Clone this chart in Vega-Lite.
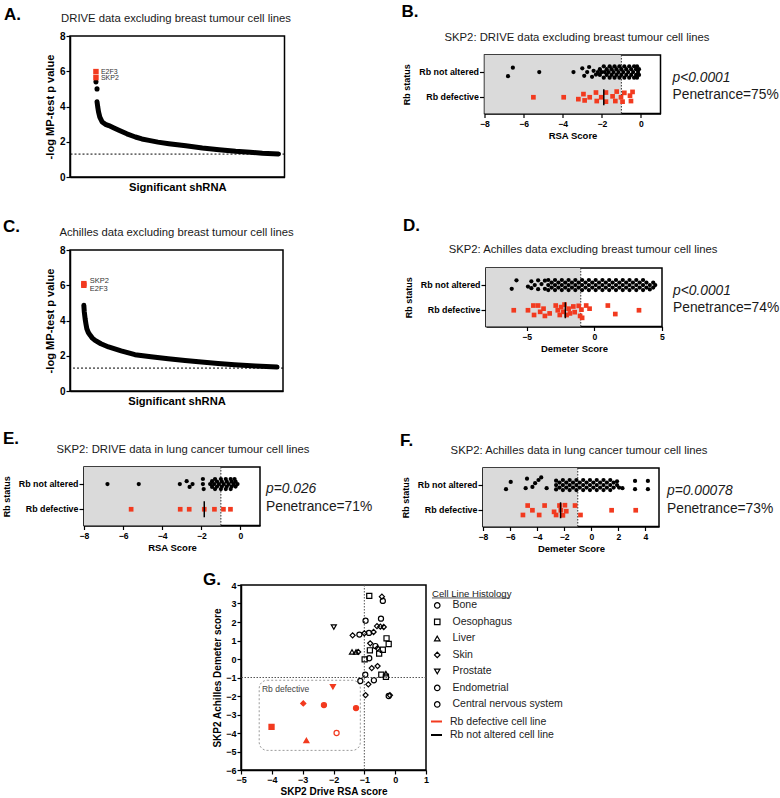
{
"$schema":"https://vega.github.io/schema/vega-lite/v6.json",
"background":"white",
"padding":0,
"config":{
"font":"Liberation Sans",
"view":{"stroke":"black","strokeWidth":1.5},
"concat":{"spacing":0},
"axis":{"grid":false,"domainColor":"black","domainWidth":1.5,"tickColor":"black","tickWidth":1.2,"labelColor":"black","labelFontWeight":"bold","labelFontSize":8.6,"titleColor":"black","titleFontWeight":"bold","labelFlush":false,"labelOverlap":false},
"text":{"color":"black"}
},
"datasets":{
"a_curve":[{"rank":12.6,"value":4.27},{"rank":12.9,"value":4.0},{"rank":13.3,"value":3.7},{"rank":13.9,"value":3.4},{"rank":15.0,"value":3.12},{"rank":16.5,"value":2.99},{"rank":18.1,"value":2.92},{"rank":20.5,"value":2.78},{"rank":22.8,"value":2.65},{"rank":26.5,"value":2.45},{"rank":30.5,"value":2.27},{"rank":33.5,"value":2.16},{"rank":36.8,"value":2.08},{"rank":41,"value":1.98},{"rank":46.1,"value":1.89},{"rank":54,"value":1.77},{"rank":61.7,"value":1.65},{"rank":69.5,"value":1.55},{"rank":77.2,"value":1.46},{"rank":84,"value":1.4},{"rank":89.7,"value":1.35},{"rank":97.2,"value":1.31}],
"a_dots":[{"rank":12.1,"value":5.4},{"rank":12.6,"value":5.0}],
"a_hits":[{"gene":"E2F3","rank":12.1,"value":5.98},{"gene":"SKP2","rank":12.1,"value":5.64}],
"c_curve":[{"rank":6.5,"value":4.86},{"rank":6.7,"value":4.5},{"rank":7.1,"value":4.1},{"rank":7.5,"value":3.8},{"rank":7.9,"value":3.53},{"rank":8.6,"value":3.32},{"rank":9.5,"value":3.16},{"rank":10.5,"value":3.0},{"rank":11.8,"value":2.87},{"rank":14.5,"value":2.68},{"rank":18.1,"value":2.5},{"rank":24,"value":2.28},{"rank":30.5,"value":2.06},{"rank":38,"value":1.94},{"rank":46.1,"value":1.83},{"rank":54,"value":1.73},{"rank":61.7,"value":1.64},{"rank":69.5,"value":1.56},{"rank":77.2,"value":1.49},{"rank":87,"value":1.42},{"rank":97.2,"value":1.36}],
"c_hits":[{"gene":"SKP2","rank":6.5,"value":6.09},{"gene":"E2F3","rank":6.5,"value":6.0}],
"b":[
{"rb":"Rb not altered","score":-6.8,"lane":1.3},{"rb":"Rb not altered","score":-6.55,"lane":-1.4},{"rb":"Rb not altered","score":-5.2,"lane":0},{"rb":"Rb not altered","score":-3.45,"lane":0},{"rb":"Rb not altered","score":-3.0,"lane":-1.2},{"rb":"Rb not altered","score":-2.9,"lane":1.2},{"rb":"Rb not altered","score":-2.75,"lane":0},{"rb":"Rb not altered","score":-2.65,"lane":-1.6},{"rb":"Rb not altered","score":-2.5,"lane":1.5},{"rb":"Rb not altered","score":-2.42,"lane":-0.4},{"rb":"Rb not altered","score":-2.3,"lane":0.8},
{"rb":"Rb not altered","score":-2.2,"lane":0},{"rb":"Rb not altered","score":-2.1,"lane":-0.9},{"rb":"Rb not altered","score":-2.1,"lane":0.9},{"rb":"Rb not altered","score":-2.0,"lane":0},{"rb":"Rb not altered","score":-1.9,"lane":-1.8},{"rb":"Rb not altered","score":-1.9,"lane":1.8},{"rb":"Rb not altered","score":-1.85,"lane":0},{"rb":"Rb not altered","score":-1.75,"lane":-0.9},{"rb":"Rb not altered","score":-1.75,"lane":0.9},{"rb":"Rb not altered","score":-1.65,"lane":0},{"rb":"Rb not altered","score":-1.6,"lane":-1.8},{"rb":"Rb not altered","score":-1.6,"lane":1.8},{"rb":"Rb not altered","score":-1.5,"lane":-0.9},{"rb":"Rb not altered","score":-1.5,"lane":0.9},{"rb":"Rb not altered","score":-1.4,"lane":0},{"rb":"Rb not altered","score":-1.35,"lane":-1.8},{"rb":"Rb not altered","score":-1.35,"lane":1.8},{"rb":"Rb not altered","score":-1.25,"lane":-0.9},{"rb":"Rb not altered","score":-1.25,"lane":0.9},{"rb":"Rb not altered","score":-1.15,"lane":0},{"rb":"Rb not altered","score":-1.1,"lane":-1.8},{"rb":"Rb not altered","score":-1.1,"lane":1.8},{"rb":"Rb not altered","score":-1.0,"lane":-0.9},{"rb":"Rb not altered","score":-1.0,"lane":0.9},{"rb":"Rb not altered","score":-0.9,"lane":0},{"rb":"Rb not altered","score":-0.85,"lane":-1.8},{"rb":"Rb not altered","score":-0.85,"lane":1.8},{"rb":"Rb not altered","score":-0.75,"lane":-0.9},{"rb":"Rb not altered","score":-0.75,"lane":0.9},{"rb":"Rb not altered","score":-0.65,"lane":0},{"rb":"Rb not altered","score":-0.6,"lane":-1.8},{"rb":"Rb not altered","score":-0.6,"lane":1.8},{"rb":"Rb not altered","score":-0.5,"lane":-0.9},{"rb":"Rb not altered","score":-0.5,"lane":0.9},{"rb":"Rb not altered","score":-0.4,"lane":0},{"rb":"Rb not altered","score":-0.35,"lane":-1.8},{"rb":"Rb not altered","score":-0.35,"lane":1.8},{"rb":"Rb not altered","score":-0.25,"lane":-0.9},{"rb":"Rb not altered","score":-0.25,"lane":0.9},{"rb":"Rb not altered","score":-0.2,"lane":-1.8},{"rb":"Rb not altered","score":-0.2,"lane":1.8},{"rb":"Rb not altered","score":-0.15,"lane":0},{"rb":"Rb not altered","score":-0.1,"lane":-0.9},{"rb":"Rb not altered","score":-0.1,"lane":0.9},
{"rb":"Rb defective","score":-5.5,"lane":0},{"rb":"Rb defective","score":-3.95,"lane":0},{"rb":"Rb defective","score":-3.2,"lane":0.6},{"rb":"Rb defective","score":-2.94,"lane":-1},{"rb":"Rb defective","score":-2.88,"lane":1},{"rb":"Rb defective","score":-2.62,"lane":0},{"rb":"Rb defective","score":-2.3,"lane":-1.5},{"rb":"Rb defective","score":-2.26,"lane":1.2},{"rb":"Rb defective","score":-2.03,"lane":0},{"rb":"Rb defective","score":-1.79,"lane":-1.5},{"rb":"Rb defective","score":-1.79,"lane":1.4},{"rb":"Rb defective","score":-1.45,"lane":-0.3},{"rb":"Rb defective","score":-1.31,"lane":1.2},{"rb":"Rb defective","score":-1.24,"lane":-1.8},{"rb":"Rb defective","score":-1.02,"lane":0},{"rb":"Rb defective","score":-0.94,"lane":1.4},{"rb":"Rb defective","score":-0.85,"lane":-1.4},{"rb":"Rb defective","score":-0.56,"lane":-0.5},{"rb":"Rb defective","score":-0.51,"lane":1.2},{"rb":"Rb defective","score":-0.43,"lane":-1.7}
],
"d":[
{"rb":"Rb not altered","score":-6.1,"lane":1.2},{"rb":"Rb not altered","score":-5.75,"lane":-1.5},{"rb":"Rb not altered","score":-4.9,"lane":0.5},{"rb":"Rb not altered","score":-4.65,"lane":-1.2},{"rb":"Rb not altered","score":-4.65,"lane":1.0},{"rb":"Rb not altered","score":-4.4,"lane":0},{"rb":"Rb not altered","score":-4.15,"lane":-1.5},{"rb":"Rb not altered","score":-4.15,"lane":1.3},{"rb":"Rb not altered","score":-3.9,"lane":-0.3},{"rb":"Rb not altered","score":-3.65,"lane":-1.4},{"rb":"Rb not altered","score":-3.65,"lane":1.2},
{"rb":"Rb not altered","score":-3.4,"lane":0},{"rb":"Rb not altered","score":-3.4,"lane":-1.6},{"rb":"Rb not altered","score":-3.4,"lane":1.6},{"rb":"Rb not altered","score":-3.15,"lane":-0.8},{"rb":"Rb not altered","score":-3.15,"lane":0.8},{"rb":"Rb not altered","score":-2.9,"lane":0},{"rb":"Rb not altered","score":-2.9,"lane":-1.6},{"rb":"Rb not altered","score":-2.9,"lane":1.6},{"rb":"Rb not altered","score":-2.65,"lane":-0.8},{"rb":"Rb not altered","score":-2.65,"lane":0.8},{"rb":"Rb not altered","score":-2.4,"lane":0},{"rb":"Rb not altered","score":-2.4,"lane":-1.6},{"rb":"Rb not altered","score":-2.4,"lane":1.6},{"rb":"Rb not altered","score":-2.15,"lane":-0.8},{"rb":"Rb not altered","score":-2.15,"lane":0.8},{"rb":"Rb not altered","score":-1.9,"lane":0},{"rb":"Rb not altered","score":-1.9,"lane":-1.6},{"rb":"Rb not altered","score":-1.9,"lane":1.6},{"rb":"Rb not altered","score":-1.65,"lane":-0.8},{"rb":"Rb not altered","score":-1.65,"lane":0.8},{"rb":"Rb not altered","score":-1.4,"lane":0},{"rb":"Rb not altered","score":-1.4,"lane":-1.6},{"rb":"Rb not altered","score":-1.4,"lane":1.6},{"rb":"Rb not altered","score":-1.15,"lane":-0.8},{"rb":"Rb not altered","score":-1.15,"lane":0.8},{"rb":"Rb not altered","score":-0.9,"lane":0},{"rb":"Rb not altered","score":-0.9,"lane":-1.6},{"rb":"Rb not altered","score":-0.9,"lane":1.6},{"rb":"Rb not altered","score":-0.65,"lane":-0.8},{"rb":"Rb not altered","score":-0.65,"lane":0.8},{"rb":"Rb not altered","score":-0.4,"lane":0},{"rb":"Rb not altered","score":-0.4,"lane":-1.6},{"rb":"Rb not altered","score":-0.4,"lane":1.6},{"rb":"Rb not altered","score":-0.15,"lane":-0.8},{"rb":"Rb not altered","score":-0.15,"lane":0.8},{"rb":"Rb not altered","score":0.1,"lane":0},{"rb":"Rb not altered","score":0.1,"lane":-1.6},{"rb":"Rb not altered","score":0.1,"lane":1.6},{"rb":"Rb not altered","score":0.35,"lane":-0.8},{"rb":"Rb not altered","score":0.35,"lane":0.8},{"rb":"Rb not altered","score":0.6,"lane":0},{"rb":"Rb not altered","score":0.6,"lane":-1.6},{"rb":"Rb not altered","score":0.6,"lane":1.6},{"rb":"Rb not altered","score":0.85,"lane":-0.8},{"rb":"Rb not altered","score":0.85,"lane":0.8},{"rb":"Rb not altered","score":1.1,"lane":0},{"rb":"Rb not altered","score":1.1,"lane":-1.6},{"rb":"Rb not altered","score":1.1,"lane":1.6},{"rb":"Rb not altered","score":1.35,"lane":-0.8},{"rb":"Rb not altered","score":1.35,"lane":0.8},{"rb":"Rb not altered","score":1.6,"lane":0},{"rb":"Rb not altered","score":1.6,"lane":-1.6},{"rb":"Rb not altered","score":1.6,"lane":1.6},{"rb":"Rb not altered","score":1.85,"lane":-0.8},{"rb":"Rb not altered","score":1.85,"lane":0.8},{"rb":"Rb not altered","score":2.1,"lane":0},{"rb":"Rb not altered","score":2.1,"lane":-1.6},{"rb":"Rb not altered","score":2.1,"lane":1.6},{"rb":"Rb not altered","score":2.35,"lane":-0.8},{"rb":"Rb not altered","score":2.35,"lane":0.8},{"rb":"Rb not altered","score":2.6,"lane":0},{"rb":"Rb not altered","score":2.6,"lane":-1.6},{"rb":"Rb not altered","score":2.6,"lane":1.6},{"rb":"Rb not altered","score":2.85,"lane":-0.8},{"rb":"Rb not altered","score":2.85,"lane":0.8},{"rb":"Rb not altered","score":3.1,"lane":0},{"rb":"Rb not altered","score":3.1,"lane":-1.6},{"rb":"Rb not altered","score":3.1,"lane":1.6},{"rb":"Rb not altered","score":3.35,"lane":-0.8},{"rb":"Rb not altered","score":3.35,"lane":0.8},{"rb":"Rb not altered","score":3.6,"lane":0},{"rb":"Rb not altered","score":3.6,"lane":-1.6},{"rb":"Rb not altered","score":3.6,"lane":1.6},{"rb":"Rb not altered","score":3.85,"lane":-0.8},{"rb":"Rb not altered","score":3.85,"lane":0.8},{"rb":"Rb not altered","score":4.1,"lane":0},{"rb":"Rb not altered","score":4.1,"lane":1.4},{"rb":"Rb not altered","score":4.35,"lane":-0.8},{"rb":"Rb not altered","score":4.35,"lane":0.8},{"rb":"Rb not altered","score":4.5,"lane":0},
{"rb":"Rb defective","score":-5.95,"lane":0},{"rb":"Rb defective","score":-4.9,"lane":0},{"rb":"Rb defective","score":-4.5,"lane":-1.5},{"rb":"Rb defective","score":-4.45,"lane":1.5},{"rb":"Rb defective","score":-4.15,"lane":-1.5},{"rb":"Rb defective","score":-4.0,"lane":0.5},{"rb":"Rb defective","score":-3.75,"lane":-0.5},{"rb":"Rb defective","score":-3.65,"lane":1.8},{"rb":"Rb defective","score":-3.3,"lane":1},{"rb":"Rb defective","score":-2.85,"lane":-1.5},{"rb":"Rb defective","score":-2.7,"lane":0},{"rb":"Rb defective","score":-2.55,"lane":1.5},{"rb":"Rb defective","score":-2.45,"lane":-1},{"rb":"Rb defective","score":-2.3,"lane":0.5},{"rb":"Rb defective","score":-2.2,"lane":-1.8},{"rb":"Rb defective","score":-2.05,"lane":1.5},{"rb":"Rb defective","score":-1.9,"lane":-0.5},{"rb":"Rb defective","score":-1.8,"lane":1},{"rb":"Rb defective","score":-1.55,"lane":-1.2},{"rb":"Rb defective","score":-1.45,"lane":0.6},{"rb":"Rb defective","score":-1.15,"lane":-1.4},{"rb":"Rb defective","score":-1.05,"lane":1.8},{"rb":"Rb defective","score":-0.95,"lane":-0.2},{"rb":"Rb defective","score":-0.9,"lane":2.4},{"rb":"Rb defective","score":-0.6,"lane":-1.5},{"rb":"Rb defective","score":-0.35,"lane":-0.5},{"rb":"Rb defective","score":1.0,"lane":-1.5},{"rb":"Rb defective","score":1.55,"lane":1.2},{"rb":"Rb defective","score":3.3,"lane":0}
],
"e":[
{"rb":"Rb not altered","score":-6.8,"lane":0},{"rb":"Rb not altered","score":-5.2,"lane":0},{"rb":"Rb not altered","score":-3.1,"lane":0},{"rb":"Rb not altered","score":-2.75,"lane":-0.9},{"rb":"Rb not altered","score":-2.6,"lane":0.9},{"rb":"Rb not altered","score":-2.45,"lane":0},{"rb":"Rb not altered","score":-1.92,"lane":-1.6},{"rb":"Rb not altered","score":-1.92,"lane":0},{"rb":"Rb not altered","score":-1.88,"lane":1.6},{"rb":"Rb not altered","score":-1.55,"lane":0},{"rb":"Rb not altered","score":-1.45,"lane":-0.9},{"rb":"Rb not altered","score":-1.45,"lane":0.9},{"rb":"Rb not altered","score":-1.35,"lane":0},{"rb":"Rb not altered","score":-1.3,"lane":-1.6},{"rb":"Rb not altered","score":-1.3,"lane":1.6},{"rb":"Rb not altered","score":-1.2,"lane":-0.8},{"rb":"Rb not altered","score":-1.2,"lane":0.8},{"rb":"Rb not altered","score":-1.1,"lane":0},{"rb":"Rb not altered","score":-1.0,"lane":-1.6},{"rb":"Rb not altered","score":-1.0,"lane":1.6},{"rb":"Rb not altered","score":-0.95,"lane":-0.8},{"rb":"Rb not altered","score":-0.95,"lane":0.8},{"rb":"Rb not altered","score":-0.85,"lane":0},{"rb":"Rb not altered","score":-0.75,"lane":-1.6},{"rb":"Rb not altered","score":-0.75,"lane":1.6},{"rb":"Rb not altered","score":-0.7,"lane":-0.8},{"rb":"Rb not altered","score":-0.7,"lane":0.8},{"rb":"Rb not altered","score":-0.6,"lane":0},{"rb":"Rb not altered","score":-0.5,"lane":-1.6},{"rb":"Rb not altered","score":-0.5,"lane":1.6},{"rb":"Rb not altered","score":-0.45,"lane":-0.8},{"rb":"Rb not altered","score":-0.45,"lane":0.8},{"rb":"Rb not altered","score":-0.35,"lane":0},{"rb":"Rb not altered","score":-0.3,"lane":-1.6},{"rb":"Rb not altered","score":-0.25,"lane":-0.8},{"rb":"Rb not altered","score":-0.25,"lane":0.8},{"rb":"Rb not altered","score":-0.15,"lane":0},
{"rb":"Rb defective","score":-5.59,"lane":0},{"rb":"Rb defective","score":-3.08,"lane":0},{"rb":"Rb defective","score":-2.62,"lane":0},{"rb":"Rb defective","score":-1.85,"lane":0},{"rb":"Rb defective","score":-1.33,"lane":0},{"rb":"Rb defective","score":-0.87,"lane":0},{"rb":"Rb defective","score":-0.51,"lane":0}
],
"f":[
{"rb":"Rb not altered","score":-6.3,"lane":1.3},{"rb":"Rb not altered","score":-5.95,"lane":-1.0},{"rb":"Rb not altered","score":-4.85,"lane":1.0},{"rb":"Rb not altered","score":-4.75,"lane":-2.0},{"rb":"Rb not altered","score":-4.35,"lane":0.6},{"rb":"Rb not altered","score":-4.15,"lane":-0.6},{"rb":"Rb not altered","score":-3.9,"lane":-1.6},{"rb":"Rb not altered","score":-3.7,"lane":-2.4},{"rb":"Rb not altered","score":-3.3,"lane":1.0},
{"rb":"Rb not altered","score":-2.6,"lane":0},{"rb":"Rb not altered","score":-2.6,"lane":-1.4},{"rb":"Rb not altered","score":-2.6,"lane":1.4},{"rb":"Rb not altered","score":-2.35,"lane":-0.8},{"rb":"Rb not altered","score":-2.35,"lane":0.8},{"rb":"Rb not altered","score":-2.1,"lane":0},{"rb":"Rb not altered","score":-2.1,"lane":-1.6},{"rb":"Rb not altered","score":-2.1,"lane":1.6},{"rb":"Rb not altered","score":-1.85,"lane":-0.8},{"rb":"Rb not altered","score":-1.85,"lane":0.8},{"rb":"Rb not altered","score":-1.6,"lane":0},{"rb":"Rb not altered","score":-1.6,"lane":-1.6},{"rb":"Rb not altered","score":-1.6,"lane":1.6},{"rb":"Rb not altered","score":-1.35,"lane":-0.8},{"rb":"Rb not altered","score":-1.35,"lane":0.8},{"rb":"Rb not altered","score":-1.1,"lane":0},{"rb":"Rb not altered","score":-1.1,"lane":-1.6},{"rb":"Rb not altered","score":-1.1,"lane":1.6},{"rb":"Rb not altered","score":-0.85,"lane":-0.8},{"rb":"Rb not altered","score":-0.85,"lane":0.8},{"rb":"Rb not altered","score":-0.6,"lane":0},{"rb":"Rb not altered","score":-0.6,"lane":-1.6},{"rb":"Rb not altered","score":-0.6,"lane":1.6},{"rb":"Rb not altered","score":-0.35,"lane":-0.8},{"rb":"Rb not altered","score":-0.35,"lane":0.8},{"rb":"Rb not altered","score":-0.1,"lane":0},{"rb":"Rb not altered","score":-0.1,"lane":-1.6},{"rb":"Rb not altered","score":-0.1,"lane":1.6},{"rb":"Rb not altered","score":0.15,"lane":-0.8},{"rb":"Rb not altered","score":0.15,"lane":0.8},{"rb":"Rb not altered","score":0.4,"lane":0},{"rb":"Rb not altered","score":0.4,"lane":-1.6},{"rb":"Rb not altered","score":0.4,"lane":1.6},{"rb":"Rb not altered","score":0.65,"lane":-0.8},{"rb":"Rb not altered","score":0.65,"lane":0.8},{"rb":"Rb not altered","score":0.9,"lane":0},{"rb":"Rb not altered","score":0.9,"lane":-1.6},{"rb":"Rb not altered","score":0.9,"lane":1.6},{"rb":"Rb not altered","score":1.15,"lane":-0.8},{"rb":"Rb not altered","score":1.15,"lane":0.8},{"rb":"Rb not altered","score":1.4,"lane":0},{"rb":"Rb not altered","score":1.4,"lane":-1.6},{"rb":"Rb not altered","score":1.4,"lane":1.6},{"rb":"Rb not altered","score":1.65,"lane":-0.8},{"rb":"Rb not altered","score":1.65,"lane":0.8},{"rb":"Rb not altered","score":1.9,"lane":0},{"rb":"Rb not altered","score":1.9,"lane":-1.2},{"rb":"Rb not altered","score":2.05,"lane":0.8},{"rb":"Rb not altered","score":2.3,"lane":1.0},{"rb":"Rb not altered","score":3.23,"lane":-1.3},{"rb":"Rb not altered","score":3.23,"lane":1.3},{"rb":"Rb not altered","score":4.18,"lane":-1.3},{"rb":"Rb not altered","score":4.18,"lane":1.3},
{"rb":"Rb defective","score":-5.05,"lane":1.5},{"rb":"Rb defective","score":-4.7,"lane":-1.5},{"rb":"Rb defective","score":-4.35,"lane":0},{"rb":"Rb defective","score":-3.85,"lane":1.5},{"rb":"Rb defective","score":-3.45,"lane":-1.5},{"rb":"Rb defective","score":-2.75,"lane":0.5},{"rb":"Rb defective","score":-2.6,"lane":1.5},{"rb":"Rb defective","score":-2.35,"lane":-1.5},{"rb":"Rb defective","score":-2.25,"lane":0},{"rb":"Rb defective","score":-2.1,"lane":1.6},{"rb":"Rb defective","score":-1.95,"lane":-1.6},{"rb":"Rb defective","score":-1.85,"lane":0.3},{"rb":"Rb defective","score":-1.2,"lane":-1.5},{"rb":"Rb defective","score":-0.8,"lane":1.5},{"rb":"Rb defective","score":1.5,"lane":0},{"rb":"Rb defective","score":3.28,"lane":0}
],
"g":[
{"histology":"Oesophagus","rb":"Rb not altered cell line","rsa":-0.84,"demeter":3.41},
{"histology":"Skin","rb":"Rb not altered cell line","rsa":-0.43,"demeter":3.37},
{"histology":"Bone","rb":"Rb not altered cell line","rsa":-0.4,"demeter":3.14},
{"histology":"Prostate","rb":"Rb not altered cell line","rsa":-1.99,"demeter":1.73},
{"histology":"Endometrial","rb":"Rb not altered cell line","rsa":-0.96,"demeter":2.07},
{"histology":"Bone","rb":"Rb not altered cell line","rsa":-0.46,"demeter":2.18},
{"histology":"Skin","rb":"Rb not altered cell line","rsa":-0.59,"demeter":1.78},
{"histology":"Skin","rb":"Rb not altered cell line","rsa":-0.48,"demeter":1.75},
{"histology":"Skin","rb":"Rb not altered cell line","rsa":-0.37,"demeter":1.73},
{"histology":"Skin","rb":"Rb not altered cell line","rsa":-1.38,"demeter":1.28},
{"histology":"Central nervous system","rb":"Rb not altered cell line","rsa":-1.16,"demeter":1.32},
{"histology":"Skin","rb":"Rb not altered cell line","rsa":-1.0,"demeter":1.39},
{"histology":"Bone","rb":"Rb not altered cell line","rsa":-0.85,"demeter":1.41},
{"histology":"Skin","rb":"Rb not altered cell line","rsa":-0.7,"demeter":1.46},
{"histology":"Oesophagus","rb":"Rb not altered cell line","rsa":-0.28,"demeter":1.12},
{"histology":"Oesophagus","rb":"Rb not altered cell line","rsa":-0.21,"demeter":0.81},
{"histology":"Skin","rb":"Rb not altered cell line","rsa":-0.81,"demeter":0.85},
{"histology":"Endometrial","rb":"Rb not altered cell line","rsa":-0.64,"demeter":0.7},
{"histology":"Skin","rb":"Rb not altered cell line","rsa":-0.57,"demeter":0.58},
{"histology":"Oesophagus","rb":"Rb not altered cell line","rsa":-0.82,"demeter":0.47},
{"histology":"Oesophagus","rb":"Rb not altered cell line","rsa":-0.4,"demeter":0.5},
{"histology":"Oesophagus","rb":"Rb not altered cell line","rsa":-0.52,"demeter":0.29},
{"histology":"Liver","rb":"Rb not altered cell line","rsa":-1.4,"demeter":0.38},
{"histology":"Liver","rb":"Rb not altered cell line","rsa":-1.27,"demeter":0.38},
{"histology":"Skin","rb":"Rb not altered cell line","rsa":-1.2,"demeter":0.38},
{"histology":"Oesophagus","rb":"Rb not altered cell line","rsa":-0.99,"demeter":-0.02},
{"histology":"Central nervous system","rb":"Rb not altered cell line","rsa":-0.84,"demeter":0.04},
{"histology":"Skin","rb":"Rb not altered cell line","rsa":-0.57,"demeter":-0.38},
{"histology":"Skin","rb":"Rb not altered cell line","rsa":-0.76,"demeter":-0.49},
{"histology":"Central nervous system","rb":"Rb not altered cell line","rsa":-0.97,"demeter":-0.85},
{"histology":"Oesophagus","rb":"Rb not altered cell line","rsa":-0.45,"demeter":-0.85},
{"histology":"Oesophagus","rb":"Rb not altered cell line","rsa":-0.3,"demeter":-0.96},
{"histology":"Liver","rb":"Rb not altered cell line","rsa":-0.3,"demeter":-0.79},
{"histology":"Endometrial","rb":"Rb not altered cell line","rsa":-1.13,"demeter":-1.19},
{"histology":"Skin","rb":"Rb not altered cell line","rsa":-0.87,"demeter":-1.37},
{"histology":"Central nervous system","rb":"Rb not altered cell line","rsa":-0.69,"demeter":-1.15},
{"histology":"Skin","rb":"Rb not altered cell line","rsa":-0.96,"demeter":-1.95},
{"histology":"Bone","rb":"Rb not altered cell line","rsa":-0.21,"demeter":-2.0},
{"histology":"Skin","rb":"Rb not altered cell line","rsa":-0.17,"demeter":-1.96},
{"histology":"Oesophagus","rb":"Rb defective cell line","rsa":-4.01,"demeter":-3.67},
{"histology":"Prostate","rb":"Rb defective cell line","rsa":-2.02,"demeter":-1.5},
{"histology":"Skin","rb":"Rb defective cell line","rsa":-2.98,"demeter":-2.4},
{"histology":"Bone","rb":"Rb defective cell line","rsa":-2.31,"demeter":-2.49},
{"histology":"Endometrial","rb":"Rb defective cell line","rsa":-1.27,"demeter":-2.65},
{"histology":"Liver","rb":"Rb defective cell line","rsa":-2.88,"demeter":-4.4},
{"histology":"Central nervous system","rb":"Rb defective cell line","rsa":-1.9,"demeter":-4.0}
]
},
"spacing":0,
"resolve":{"scale":{"yOffset":"independent","shape":"independent","stroke":"independent"}},
"vconcat":[
{"hconcat":[
 {"hconcat":[
  {"width":2.5,"height":1,"data":{"values":[]},"mark":"point","view":{"stroke":null}},
  {"vconcat":[
   {"width":1,"height":4,"data":{"values":[]},"mark":"point","view":{"stroke":null}},
   {"width":214.5,"height":141,"layer":[
    {"data":{"name":"a_curve"},"mark":{"type":"line","color":"black","strokeWidth":5,"strokeCap":"round","strokeJoin":"round"},
     "encoding":{"x":{"field":"rank","type":"quantitative","scale":{"domain":[0,100],"nice":false,"zero":false},"axis":{"labels":false,"ticks":false,"title":"Significant shRNA","titleFontSize":11.2,"titlePadding":4.5}},
     "y":{"field":"value","type":"quantitative","scale":{"domain":[0,8],"nice":false},"axis":{"values":[0,2,4,6,8],"tickCount":40,"format":"d","title":"-log MP-test p value","labelFontSize":10,"titleFontSize":11.1,"tickSize":4,"labelPadding":1,"titlePadding":4}}}},
    {"data":{"values":[{}]},"mark":{"type":"rule","strokeDash":[2,2],"strokeWidth":1,"color":"black"},"encoding":{"y":{"datum":1.3}}},
    {"data":{"name":"a_dots"},"mark":{"type":"circle","color":"black","size":26,"opacity":1},"encoding":{"x":{"field":"rank","type":"quantitative"},"y":{"field":"value","type":"quantitative"}}},
    {"data":{"name":"a_hits"},"mark":{"type":"square","color":"#f23a1f","size":30,"opacity":1},"encoding":{"x":{"field":"rank","type":"quantitative"},"y":{"field":"value","type":"quantitative"}}},
    {"data":{"name":"a_hits"},"mark":{"type":"text","align":"left","baseline":"middle","dx":5,"fontSize":7,"color":"#333"},"encoding":{"x":{"field":"rank","type":"quantitative"},"y":{"field":"value","type":"quantitative"},"text":{"field":"gene"}}},
    {"data":{"values":[{"label":"A."}]},"mark":{"type":"text","align":"left","baseline":"alphabetic","fontSize":17,"fontWeight":"bold","dx":-66,"dy":-16.5},"encoding":{"x":{"datum":0},"y":{"datum":8},"text":{"field":"label"}}},
    {"data":{"values":[{"label":"DRIVE data excluding breast tumour cell lines"}]},"mark":{"type":"text","align":"center","baseline":"alphabetic","fontSize":11.3,"color":"#1a1a1a","dx":-1.25,"dy":-14.5},"encoding":{"x":{"datum":50},"y":{"datum":8},"text":{"field":"label"}}}
   ]}
  ],"spacing":0}
 ],"spacing":0},
 {"vconcat":[
  {"width":1,"height":1.5,"data":{"values":[]},"mark":"point","view":{"stroke":null}},
  {"width":176,"height":58.5,"layer":[
   {"data":{"values":[{}]},"mark":{"type":"rect","color":"#dadada"},"encoding":{"x":{"datum":-8,"type":"quantitative","scale":{"domain":[-8,1],"nice":false,"zero":false},"axis":{"values":[-8,-6,-4,-2,0],"tickCount":40,"format":"d","title":"RSA Score","tickSize":4,"labelPadding":2,"titlePadding":2,"titleFontSize":9.5}},"x2":{"datum":-1}}},
   {"data":{"values":[{}]},"mark":{"type":"rule","color":"#333","strokeWidth":1,"strokeDash":[1.5,1.5]},"encoding":{"x":{"datum":-1}}},
   {"data":{"name":"b"},"transform":[{"filter":"datum.rb === 'Rb not altered'"}],"mark":{"type":"circle","color":"black","size":18,"opacity":1},
    "encoding":{"x":{"field":"score","type":"quantitative"},
    "y":{"field":"rb","type":"nominal","scale":{"type":"band","domain":["Rb not altered","Rb defective"],"paddingInner":0,"paddingOuter":0.16,"align":0.55},"axis":{"title":"Rb status","titleFontSize":9,"labelFontSize":8.9,"tickSize":5,"labelPadding":1,"titlePadding":7}},
    "yOffset":{"field":"lane","type":"quantitative","scale":{"domain":[-4,4]}}}},
   {"data":{"name":"b"},"transform":[{"filter":"datum.rb === 'Rb defective'"}],"mark":{"type":"square","color":"#f23a1f","size":22,"opacity":1},
    "encoding":{"x":{"field":"score","type":"quantitative"},"y":{"field":"rb","type":"nominal"},"yOffset":{"field":"lane","type":"quantitative"}}},
   {"data":{"values":[{"rb":"Rb defective","median":-1.9}]},"mark":{"type":"tick","color":"black","thickness":1.5,"size":16,"opacity":1},"encoding":{"x":{"field":"median","type":"quantitative"},"y":{"field":"rb","type":"nominal"}}},
   {"data":{"values":[{"label":"B."}]},"mark":{"type":"text","align":"left","baseline":"alphabetic","fontSize":17,"fontWeight":"bold","dx":-83,"dy":-54.6},"encoding":{"x":{"datum":-8},"y":{"datum":"Rb not altered"},"text":{"field":"label"}}},
   {"data":{"values":[{"label":"SKP2: DRIVE data excluding breast tumour cell lines"}]},"mark":{"type":"text","align":"center","baseline":"alphabetic","fontSize":11.3,"color":"#1a1a1a","dx":4.5,"dy":-31.4},"encoding":{"x":{"datum":-3.5},"y":{"datum":"Rb not altered"},"text":{"field":"label"}}},
   {"data":{"values":[{"label":"p<0.0001"}]},"mark":{"type":"text","align":"left","baseline":"alphabetic","fontSize":13.8,"fontStyle":"italic","color":"#1a1a1a","dx":12,"dy":9.5},"encoding":{"x":{"datum":1},"y":{"datum":"Rb not altered"},"text":{"field":"label"}}},
   {"data":{"values":[{"label":"Penetrance=75%"}]},"mark":{"type":"text","align":"left","baseline":"alphabetic","fontSize":13.8,"color":"#1a1a1a","dx":12,"dy":2},"encoding":{"x":{"datum":1},"y":{"datum":"Rb defective"},"text":{"field":"label"}}}
  ]}
 ],"spacing":0}
],"spacing":108.5},
{"hconcat":[
 {"hconcat":[
  {"width":1.5,"height":1,"data":{"values":[]},"mark":"point","view":{"stroke":null}},
  {"vconcat":[
   {"width":1,"height":21.6,"data":{"values":[]},"mark":"point","view":{"stroke":null}},
   {"width":213,"height":141,"layer":[
    {"data":{"name":"c_curve"},"mark":{"type":"line","color":"black","strokeWidth":5,"strokeCap":"round","strokeJoin":"round"},
     "encoding":{"x":{"field":"rank","type":"quantitative","scale":{"domain":[0,100],"nice":false,"zero":false},"axis":{"labels":false,"ticks":false,"title":"Significant shRNA","titleFontSize":11.2,"titlePadding":4.5}},
     "y":{"field":"value","type":"quantitative","scale":{"domain":[0,8],"nice":false},"axis":{"values":[0,2,4,6,8],"tickCount":40,"format":"d","title":"-log MP-test p value","labelFontSize":10,"titleFontSize":11.1,"tickSize":4,"labelPadding":1,"titlePadding":4}}}},
    {"data":{"values":[{}]},"mark":{"type":"rule","strokeDash":[2,2],"strokeWidth":1,"color":"black"},"encoding":{"y":{"datum":1.3}}},
    {"data":{"name":"c_hits"},"mark":{"type":"square","color":"#f23a1f","size":30,"opacity":1},"encoding":{"x":{"field":"rank","type":"quantitative"},"y":{"field":"value","type":"quantitative"}}},
    {"data":{"name":"c_hits"},"transform":[{"filter":"datum.gene === 'SKP2'"}],"mark":{"type":"text","align":"left","baseline":"middle","dx":6,"dy":-2.5,"fontSize":7.5,"color":"#333"},"encoding":{"x":{"field":"rank","type":"quantitative"},"y":{"field":"value","type":"quantitative"},"text":{"field":"gene"}}},
    {"data":{"name":"c_hits"},"transform":[{"filter":"datum.gene === 'E2F3'"}],"mark":{"type":"text","align":"left","baseline":"middle","dx":6,"dy":3.5,"fontSize":7.5,"color":"#333"},"encoding":{"x":{"field":"rank","type":"quantitative"},"y":{"field":"value","type":"quantitative"},"text":{"field":"gene"}}},
    {"data":{"values":[{"label":"C."}]},"mark":{"type":"text","align":"left","baseline":"alphabetic","fontSize":17,"fontWeight":"bold","dx":-67,"dy":-18.5},"encoding":{"x":{"datum":0},"y":{"datum":8},"text":{"field":"label"}}},
    {"data":{"values":[{"label":"Achilles data excluding breast tumour cell lines"}]},"mark":{"type":"text","align":"center","baseline":"alphabetic","fontSize":11.3,"color":"#1a1a1a","dx":0,"dy":-14},"encoding":{"x":{"datum":50},"y":{"datum":8},"text":{"field":"label"}}}
   ]}
  ],"spacing":0}
 ],"spacing":0},
 {"vconcat":[
  {"width":1,"height":21.6,"data":{"values":[]},"mark":"point","view":{"stroke":null}},
  {"width":176,"height":58.5,"layer":[
   {"data":{"values":[{}]},"mark":{"type":"rect","color":"#dadada"},"encoding":{"x":{"datum":-8,"type":"quantitative","scale":{"domain":[-8,5],"nice":false,"zero":false},"axis":{"values":[-5,0,5],"tickCount":40,"format":"d","title":"Demeter Score","tickSize":4,"labelPadding":2,"titlePadding":2,"titleFontSize":9.5}},"x2":{"datum":-1}}},
   {"data":{"values":[{}]},"mark":{"type":"rule","color":"#333","strokeWidth":1,"strokeDash":[1.5,1.5]},"encoding":{"x":{"datum":-1}}},
   {"data":{"name":"d"},"transform":[{"filter":"datum.rb === 'Rb not altered'"}],"mark":{"type":"circle","color":"black","size":18,"opacity":1},
    "encoding":{"x":{"field":"score","type":"quantitative"},
    "y":{"field":"rb","type":"nominal","scale":{"type":"band","domain":["Rb not altered","Rb defective"],"paddingInner":0,"paddingOuter":0.16,"align":0.55},"axis":{"title":"Rb status","titleFontSize":9,"labelFontSize":8.9,"tickSize":5,"labelPadding":1,"titlePadding":7}},
    "yOffset":{"field":"lane","type":"quantitative","scale":{"domain":[-4,4]}}}},
   {"data":{"name":"d"},"transform":[{"filter":"datum.rb === 'Rb defective'"}],"mark":{"type":"square","color":"#f23a1f","size":22,"opacity":1},
    "encoding":{"x":{"field":"score","type":"quantitative"},"y":{"field":"rb","type":"nominal"},"yOffset":{"field":"lane","type":"quantitative"}}},
   {"data":{"values":[{"rb":"Rb defective","median":-2.14}]},"mark":{"type":"tick","color":"black","thickness":1.5,"size":16,"opacity":1},"encoding":{"x":{"field":"median","type":"quantitative"},"y":{"field":"rb","type":"nominal"}}},
   {"data":{"values":[{"label":"D."}]},"mark":{"type":"text","align":"left","baseline":"alphabetic","fontSize":17,"fontWeight":"bold","dx":-83,"dy":-54.1},"encoding":{"x":{"datum":-8},"y":{"datum":"Rb not altered"},"text":{"field":"label"}}},
   {"data":{"values":[{"label":"SKP2: Achilles data excluding breast tumour cell lines"}]},"mark":{"type":"text","align":"center","baseline":"alphabetic","fontSize":11.3,"color":"#1a1a1a","dx":9,"dy":-31.9},"encoding":{"x":{"datum":-1.5},"y":{"datum":"Rb not altered"},"text":{"field":"label"}}},
   {"data":{"values":[{"label":"p<0.0001"}]},"mark":{"type":"text","align":"left","baseline":"alphabetic","fontSize":13.8,"fontStyle":"italic","color":"#1a1a1a","dx":11,"dy":9.5},"encoding":{"x":{"datum":5},"y":{"datum":"Rb not altered"},"text":{"field":"label"}}},
   {"data":{"values":[{"label":"Penetrance=74%"}]},"mark":{"type":"text","align":"left","baseline":"alphabetic","fontSize":13.8,"color":"#1a1a1a","dx":11,"dy":2},"encoding":{"x":{"datum":5},"y":{"datum":"Rb defective"},"text":{"field":"label"}}}
  ]}
 ],"spacing":0}
],"spacing":107},
{"hconcat":[
 {"hconcat":[
  {"width":1,"height":1,"data":{"values":[]},"mark":"point","view":{"stroke":null}},
  {"vconcat":[
   {"width":1,"height":20.4,"data":{"values":[]},"mark":"point","view":{"stroke":null}},
   {"width":176,"height":58.5,"layer":[
    {"data":{"values":[{}]},"mark":{"type":"rect","color":"#dadada"},"encoding":{"x":{"datum":-8,"type":"quantitative","scale":{"domain":[-8,1],"nice":false,"zero":false},"axis":{"values":[-8,-6,-4,-2,0],"tickCount":40,"format":"d","title":"RSA Score","tickSize":4,"labelPadding":2,"titlePadding":2,"titleFontSize":9.5}},"x2":{"datum":-1}}},
    {"data":{"values":[{}]},"mark":{"type":"rule","color":"#333","strokeWidth":1,"strokeDash":[1.5,1.5]},"encoding":{"x":{"datum":-1}}},
    {"data":{"name":"e"},"transform":[{"filter":"datum.rb === 'Rb not altered'"}],"mark":{"type":"circle","color":"black","size":18,"opacity":1},
     "encoding":{"x":{"field":"score","type":"quantitative"},
     "y":{"field":"rb","type":"nominal","scale":{"type":"band","domain":["Rb not altered","Rb defective"],"paddingInner":0,"paddingOuter":0.16,"align":0.55},"axis":{"title":"Rb status","titleFontSize":9,"labelFontSize":8.9,"tickSize":5,"labelPadding":1,"titlePadding":7}},
     "yOffset":{"field":"lane","type":"quantitative","scale":{"domain":[-4,4]}}}},
    {"data":{"name":"e"},"transform":[{"filter":"datum.rb === 'Rb defective'"}],"mark":{"type":"square","color":"#f23a1f","size":22,"opacity":1},
     "encoding":{"x":{"field":"score","type":"quantitative"},"y":{"field":"rb","type":"nominal"},"yOffset":{"field":"lane","type":"quantitative"}}},
    {"data":{"values":[{"rb":"Rb defective","median":-1.85}]},"mark":{"type":"tick","color":"black","thickness":1.5,"size":16,"opacity":1},"encoding":{"x":{"field":"median","type":"quantitative"},"y":{"field":"rb","type":"nominal"}}},
    {"data":{"values":[{"label":"E."}]},"mark":{"type":"text","align":"left","baseline":"alphabetic","fontSize":17,"fontWeight":"bold","dx":-81,"dy":-40.1},"encoding":{"x":{"datum":-8},"y":{"datum":"Rb not altered"},"text":{"field":"label"}}},
    {"data":{"values":[{"label":"SKP2: DRIVE data in lung cancer tumour cell lines"}]},"mark":{"type":"text","align":"center","baseline":"alphabetic","fontSize":11.3,"color":"#1a1a1a","dx":11,"dy":-31.1},"encoding":{"x":{"datum":-3.5},"y":{"datum":"Rb not altered"},"text":{"field":"label"}}},
    {"data":{"values":[{"label":"p=0.026"}]},"mark":{"type":"text","align":"left","baseline":"alphabetic","fontSize":13.8,"fontStyle":"italic","color":"#1a1a1a","dx":6,"dy":9},"encoding":{"x":{"datum":1},"y":{"datum":"Rb not altered"},"text":{"field":"label"}}},
    {"data":{"values":[{"label":"Penetrance=71%"}]},"mark":{"type":"text","align":"left","baseline":"alphabetic","fontSize":13.8,"color":"#1a1a1a","dx":6,"dy":2},"encoding":{"x":{"datum":1},"y":{"datum":"Rb defective"},"text":{"field":"label"}}}
   ]}
  ],"spacing":0}
 ],"spacing":0},
 {"vconcat":[
  {"width":1,"height":22.4,"data":{"values":[]},"mark":"point","view":{"stroke":null}},
  {"width":176,"height":58.5,"layer":[
   {"data":{"values":[{}]},"mark":{"type":"rect","color":"#dadada"},"encoding":{"x":{"datum":-8,"type":"quantitative","scale":{"domain":[-8,5],"nice":false,"zero":false},"axis":{"values":[-8,-6,-4,-2,0,2,4],"tickCount":40,"format":"d","title":"Demeter Score","tickSize":4,"labelPadding":2,"titlePadding":2,"titleFontSize":9.5}},"x2":{"datum":-1}}},
   {"data":{"values":[{}]},"mark":{"type":"rule","color":"#333","strokeWidth":1,"strokeDash":[1.5,1.5]},"encoding":{"x":{"datum":-1}}},
   {"data":{"name":"f"},"transform":[{"filter":"datum.rb === 'Rb not altered'"}],"mark":{"type":"circle","color":"black","size":18,"opacity":1},
    "encoding":{"x":{"field":"score","type":"quantitative"},
    "y":{"field":"rb","type":"nominal","scale":{"type":"band","domain":["Rb not altered","Rb defective"],"paddingInner":0,"paddingOuter":0.16,"align":0.55},"axis":{"title":"Rb status","titleFontSize":9,"labelFontSize":8.9,"tickSize":5,"labelPadding":1,"titlePadding":7}},
    "yOffset":{"field":"lane","type":"quantitative","scale":{"domain":[-4,4]}}}},
   {"data":{"name":"f"},"transform":[{"filter":"datum.rb === 'Rb defective'"}],"mark":{"type":"square","color":"#f23a1f","size":22,"opacity":1},
    "encoding":{"x":{"field":"score","type":"quantitative"},"y":{"field":"rb","type":"nominal"},"yOffset":{"field":"lane","type":"quantitative"}}},
   {"data":{"values":[{"rb":"Rb defective","median":-2.27}]},"mark":{"type":"tick","color":"black","thickness":1.5,"size":16,"opacity":1},"encoding":{"x":{"field":"median","type":"quantitative"},"y":{"field":"rb","type":"nominal"}}},
   {"data":{"values":[{"label":"F."}]},"mark":{"type":"text","align":"left","baseline":"alphabetic","fontSize":17,"fontWeight":"bold","dx":-83,"dy":-39.1},"encoding":{"x":{"datum":-8},"y":{"datum":"Rb not altered"},"text":{"field":"label"}}},
   {"data":{"values":[{"label":"SKP2: Achilles data in lung cancer tumour cell lines"}]},"mark":{"type":"text","align":"center","baseline":"alphabetic","fontSize":11.3,"color":"#1a1a1a","dx":8,"dy":-30.6},"encoding":{"x":{"datum":-1.5},"y":{"datum":"Rb not altered"},"text":{"field":"label"}}},
   {"data":{"values":[{"label":"p=0.00078"}]},"mark":{"type":"text","align":"left","baseline":"alphabetic","fontSize":13.8,"fontStyle":"italic","color":"#1a1a1a","dx":8,"dy":10},"encoding":{"x":{"datum":5},"y":{"datum":"Rb not altered"},"text":{"field":"label"}}},
   {"data":{"values":[{"label":"Penetrance=73%"}]},"mark":{"type":"text","align":"left","baseline":"alphabetic","fontSize":13.8,"color":"#1a1a1a","dx":8,"dy":2.5},"encoding":{"x":{"datum":5},"y":{"datum":"Rb defective"},"text":{"field":"label"}}}
  ]}
 ],"spacing":0}
],"spacing":26},
{"hconcat":[
 {"width":202,"height":1,"data":{"values":[]},"mark":"point","view":{"stroke":null}},
 {"vconcat":[
  {"width":1,"height":15.4,"data":{"values":[]},"mark":"point","view":{"stroke":null}},
  {"width":185,"height":185,"layer":[
   {"data":{"values":[{}]},"mark":{"type":"rect","fill":"transparent","stroke":"#9b9b9b","strokeWidth":1,"strokeDash":[2,2],"cornerRadius":8},
    "encoding":{"x":{"datum":-4.41,"type":"quantitative","scale":{"domain":[-5,1],"nice":false,"zero":false},"axis":{"values":[-5,-4,-3,-2,-1,0,1],"tickCount":40,"format":"d","title":"SKP2 Drive RSA score","labelFontSize":9,"titleFontSize":10,"tickSize":4,"labelPadding":1.5,"titlePadding":2}},
    "x2":{"datum":-1.13},
    "y":{"datum":-1.15,"type":"quantitative","scale":{"domain":[-6,4],"nice":false,"zero":false},"axis":{"values":[-6,-5,-4,-3,-2,-1,0,1,2,3,4],"tickCount":40,"format":"d","title":"SKP2 Achilles Demeter score","labelFontSize":9,"titleFontSize":10,"tickSize":4,"labelPadding":1,"titlePadding":3}},
    "y2":{"datum":-4.94}}},
   {"data":{"values":[{"label":"Rb defective"}]},"mark":{"type":"text","align":"left","baseline":"middle","fontSize":8.5,"color":"#444"},"encoding":{"x":{"datum":-4.32},"y":{"datum":-1.6},"text":{"field":"label"}}},
   {"data":{"values":[{}]},"mark":{"type":"rule","color":"#555","strokeWidth":1,"strokeDash":[1.5,1.5]},"encoding":{"x":{"datum":-1}}},
   {"data":{"values":[{}]},"mark":{"type":"rule","color":"#555","strokeWidth":1,"strokeDash":[1.5,1.5]},"encoding":{"y":{"datum":-1}}},
   {"data":{"values":[{}]},"mark":{"type":"rule","color":"#222","strokeWidth":0.8},"encoding":{"x":{"datum":1.195},"x2":{"datum":3.72},"y":{"datum":3.3}}},
   {"data":{"name":"g"},"transform":[{"filter":"datum.rb === 'Rb not altered cell line'"}],"mark":{"type":"point","filled":false,"strokeWidth":1.2,"size":26,"opacity":1},
    "encoding":{
     "x":{"field":"rsa","type":"quantitative"},
     "y":{"field":"demeter","type":"quantitative"},
     "shape":{"field":"histology","type":"nominal","scale":{"domain":["Bone","Oesophagus","Liver","Skin","Prostate","Endometrial","Central nervous system"],"range":["circle","square","triangle-up","diamond","triangle-down","circle","circle"]},
      "legend":{"title":"Cell Line Histology","orient":"none","legendX":191,"legendY":3.6,"padding":0,"titleFontSize":9.6,"titleFontWeight":"normal","titleColor":"#222","titlePadding":2,"labelFontSize":10.5,"labelColor":"#222","labelOffset":10,"rowPadding":5.5,"symbolSize":30,"symbolStrokeWidth":1.2,"symbolStrokeColor":"black","symbolFillColor":"white"}},
     "stroke":{"field":"rb","type":"nominal","scale":{"domain":["Rb defective cell line","Rb not altered cell line"],"range":["#f23a1f","black"]},
      "legend":{"title":null,"orient":"none","legendX":189,"legendY":130,"padding":0,"symbolType":"stroke","symbolSize":121,"symbolStrokeWidth":2,"labelFontSize":10.5,"labelColor":"#222","labelOffset":7,"rowPadding":1.5}}
    }},
   {"data":{"name":"g"},"transform":[{"filter":"datum.rb === 'Rb defective cell line'"}],"mark":{"type":"point","filled":true,"strokeWidth":1.2,"size":26,"opacity":1},
    "encoding":{
     "x":{"field":"rsa","type":"quantitative"},
     "y":{"field":"demeter","type":"quantitative"},
     "shape":{"field":"histology","type":"nominal"},
     "stroke":{"field":"rb","type":"nominal"},
     "fill":{"condition":{"test":"datum.histology === 'Central nervous system'","value":"white"},"value":"#f23a1f"}
    }},
   {"data":{"values":[{"label":"G."}]},"mark":{"type":"text","align":"left","baseline":"alphabetic","fontSize":17,"fontWeight":"bold","dx":-38,"dy":0},"encoding":{"x":{"datum":-5},"y":{"datum":4},"text":{"field":"label"}}}
  ]}
 ],"spacing":0,"resolve":{"scale":{"shape":"independent","stroke":"independent"},"legend":{"shape":"independent","stroke":"independent"}}}
],"spacing":0,"resolve":{"scale":{"shape":"independent","stroke":"independent"},"legend":{"shape":"independent","stroke":"independent"}}}
]
}
